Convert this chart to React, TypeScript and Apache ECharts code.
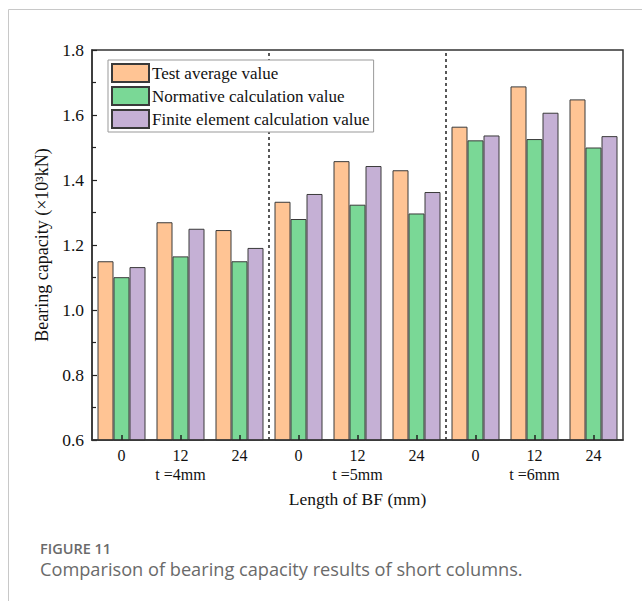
import React, { useEffect, useRef } from "react";
import * as echarts from "echarts";

// Bar categories (length of BF, mm) within the three plate-thickness groups
const lengths = ["0", "12", "24", "0", "12", "24", "0", "12", "24"];
const groups = ["t =4mm", "t =5mm", "t =6mm"];

// Bearing capacity (×10³ kN)
const testAverage = [1.15, 1.27, 1.246, 1.333, 1.458, 1.43, 1.564, 1.688, 1.648];
const normative = [1.101, 1.165, 1.15, 1.28, 1.324, 1.297, 1.522, 1.526, 1.5];
const finiteElement = [1.132, 1.25, 1.191, 1.357, 1.443, 1.363, 1.537, 1.607, 1.535];

const seriesNames = [
  "Test average value",
  "Normative calculation value",
  "Finite element calculation value",
];

// Group boundaries on a 0..9 index scale
const groupBounds = [3, 6];

const SERIF = "'Liberation Serif', 'Times New Roman', serif";
const SANS = "'Open Sans', 'Noto Sans', sans-serif";

export default function App() {
  const ref = useRef<HTMLDivElement>(null);

  useEffect(() => {
    if (!ref.current) return;
    const chart = echarts.init(ref.current, null, { renderer: "svg" });
    const colors = ["#FFC494", "#7AD896", "#C5B0D5"];
    const values = [testAverage, normative, finiteElement];

    const barSeries = values.map((data, i) => ({
      name: seriesNames[i],
      type: "bar",
      xAxisIndex: 0,
      yAxisIndex: 0,
      data,
      barWidth: 16,
      barGap: "0%",
      itemStyle: { color: colors[i], borderColor: "#3a3a3a", borderWidth: 1 },
      z: 3,
    }));

    chart.setOption({
      animation: false,
      backgroundColor: "#ffffff",
      grid: {
        left: 92,
        right: 19,
        top: 50,
        bottom: 161,
        show: true,
        borderColor: "#333",
        borderWidth: 1.5,
        backgroundColor: "transparent",
      },
      legend: {
        orient: "vertical",
        left: 108,
        top: 60,
        data: seriesNames,
        icon: "rect",
        itemWidth: 37,
        itemHeight: 18,
        itemGap: 3,
        padding: [3, 4, 3, 3],
        borderColor: "#999",
        borderWidth: 1,
        backgroundColor: "#fff",
        textStyle: { fontFamily: SERIF, fontSize: 17, color: "#111", padding: [0, 0, 0, -2] },
        z: 10,
      },
      xAxis: [
        {
          type: "category",
          data: lengths,
          position: "bottom",
          axisLine: { show: true, lineStyle: { color: "#333", width: 1.5 } },
          axisTick: {
            show: true,
            inside: true,
            alignWithLabel: true,
            length: 5,
            lineStyle: { color: "#222", width: 1.5 },
          },
          axisLabel: { fontFamily: SERIF, fontSize: 16, color: "#111", margin: 7 },
          splitLine: { show: false },
          z: 5,
        },
        {
          type: "value",
          min: 0,
          max: 9,
          show: false,
        },
        {
          type: "category",
          data: groups,
          position: "bottom",
          offset: 19,
          axisLine: { show: false },
          axisTick: { show: false },
          axisLabel: { fontFamily: SERIF, fontSize: 16, color: "#111", margin: 7 },
          name: "Length of BF (mm)",
          nameLocation: "middle",
          nameGap: 31,
          nameTextStyle: { fontFamily: SERIF, fontSize: 17.5, color: "#111" },
        },
      ],
      yAxis: {
        type: "value",
        min: 0.6,
        max: 1.8,
        interval: 0.2,
        name: "Bearing capacity (×10³kN)",
        nameLocation: "middle",
        nameGap: 41,
        nameRotate: 90,
        nameTextStyle: { fontFamily: SERIF, fontSize: 18, color: "#111" },
        axisLine: { show: true, lineStyle: { color: "#333", width: 1.5 } },
        axisTick: { show: true, inside: true, length: 5, lineStyle: { color: "#222", width: 1.2 } },
        minorTick: { show: true, splitNumber: 2, length: 4, lineStyle: { color: "#222", width: 1.2 } },
        axisLabel: {
          fontFamily: SERIF,
          fontSize: 17.5,
          color: "#111",
          margin: 8,
          formatter: (v: number) => v.toFixed(1),
        },
        splitLine: { show: false },
      },
      series: [
        ...barSeries,
        {
          type: "scatter",
          xAxisIndex: 1,
          yAxisIndex: 0,
          data: [],
          silent: true,
          markLine: {
            symbol: "none",
            silent: true,
            label: { show: false },
            lineStyle: { color: "#222", type: [3, 3], width: 1.5 },
            data: groupBounds.map((x) => ({ xAxis: x })),
          },
          z: 4,
        },
      ],
      graphic: [
        {
          type: "line",
          shape: { x1: 8.5, y1: 9.5, x2: 642, y2: 9.5 },
          style: { stroke: "#c8c8c8", lineWidth: 1 },
        },
        {
          type: "line",
          shape: { x1: 8.5, y1: 9.5, x2: 8.5, y2: 601 },
          style: { stroke: "#c8c8c8", lineWidth: 1 },
        },
        {
          type: "text",
          left: 40,
          top: 541,
          style: {
            text: "FIGURE 11",
            fontFamily: SANS,
            fontSize: 14.5,
            fontWeight: 600,
            fill: "#6a6a6a",
          },
        },
        {
          type: "text",
          left: 40,
          top: 560,
          style: {
            text: "Comparison of bearing capacity results of short columns.",
            fontFamily: SANS,
            fontSize: 18.2,
            fill: "#6a6a6a",
          },
        },
      ],
    });

    return () => chart.dispose();
  }, []);

  return (
    <div
      ref={ref}
      style={{ position: "fixed", left: 0, top: 0, width: 642, height: 601 }}
    />
  );
}
